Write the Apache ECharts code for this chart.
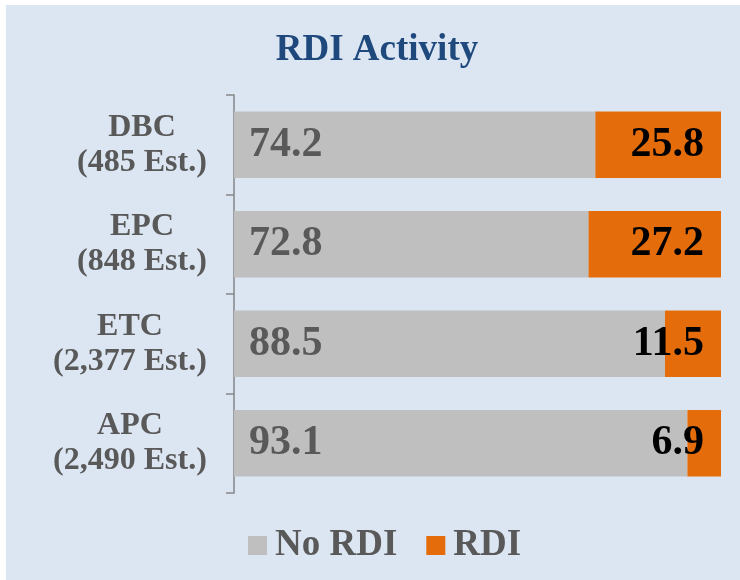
<!DOCTYPE html>
<html>
<head>
<meta charset="utf-8">
<script src="https://cdn.jsdelivr.net/npm/echarts@6/dist/echarts.min.js"></script>
<style>
html,body{margin:0;padding:0;background:#ffffff;}
#chart{width:740px;height:580px;}
</style>
</head>
<body>
<div id="chart"></div>
<script>
const categories = ['DBC\n(485 Est.)', 'EPC\n(848 Est.)', 'ETC\n(2,377 Est.)', 'APC\n(2,490 Est.)'];
const noRdi = [74.2, 72.8, 88.5, 93.1];
const rdi = [25.8, 27.2, 11.5, 6.9];
const seriesNames = ['No RDI', 'RDI'];

const serif = "'Liberation Serif', 'Times New Roman', serif";
const labelFont = 'bold 32px ' + serif;

// measure each category block so lines can be centred within a right-aligned block
const cv = document.createElement('canvas').getContext('2d');
cv.font = labelFont;
const rich = {};
categories.forEach((c, i) => {
  const w = Math.max(...c.split('\n').map(l => cv.measureText(l).width));
  rich['r' + i] = {width: Math.ceil(w), align: 'center', fontFamily: serif, fontWeight: 'bold',
    fontSize: 32, lineHeight: 35, color: '#595959'};
});

const chart = echarts.init(document.getElementById('chart'));
chart.setOption({
  backgroundColor: '#ffffff',
  animation: false,
  graphic: [{
    type: 'rect', z: -10, silent: true,
    shape: {x: 6, y: 5, width: 734, height: 575},
    style: {fill: '#dce6f2'}
  }, {
    type: 'text', x: 377, y: 32, silent: true,
    style: {text: 'RDI Activity', align: 'center', verticalAlign: 'top',
      font: 'bold 37px ' + serif, fill: '#1f497d'}
  }],
  legend: {
    data: seriesNames,
    left: 243, top: 522,
    itemWidth: 19, itemHeight: 19, itemGap: 29,
    icon: 'rect',
    textStyle: {fontFamily: serif, fontWeight: 'bold', fontSize: 37, color: '#595959', padding: [0, 0, 0, 3]}
  },
  grid: {left: 234, right: 19, top: 95, bottom: 87},
  xAxis: {type: 'value', min: 0, max: 100, show: false},
  yAxis: {
    type: 'category', data: categories, inverse: true,
    axisLine: {show: true, lineStyle: {color: '#868686', width: 1.5}},
    axisTick: {show: true, length: 8, lineStyle: {color: '#868686', width: 1.5}},
    axisLabel: {
      align: 'right', margin: 27,
      fontFamily: serif, fontWeight: 'bold', fontSize: 32, lineHeight: 35, color: '#595959',
      formatter: (v, i) => v.split('\n').map(l => '{r' + i + '|' + l + '}').join('\n'),
      rich: rich
    }
  },
  series: [
    {
      name: seriesNames[0], type: 'bar', stack: 'a', data: noRdi,
      barCategoryGap: '33%',
      itemStyle: {color: '#bfbfbf'},
      label: {show: true, position: 'insideLeft', distance: 15,
        fontFamily: serif, fontWeight: 'bold', fontSize: 42, color: '#595959',
        formatter: p => p.value.toFixed(1)}
    },
    {
      name: seriesNames[1], type: 'bar', stack: 'a', data: rdi,
      itemStyle: {color: '#e46c0a'},
      label: {show: true, position: 'insideRight', distance: 17,
        fontFamily: serif, fontWeight: 'bold', fontSize: 42, color: '#000000',
        formatter: p => p.value.toFixed(1)}
    }
  ]
});
</script>
</body>
</html>
